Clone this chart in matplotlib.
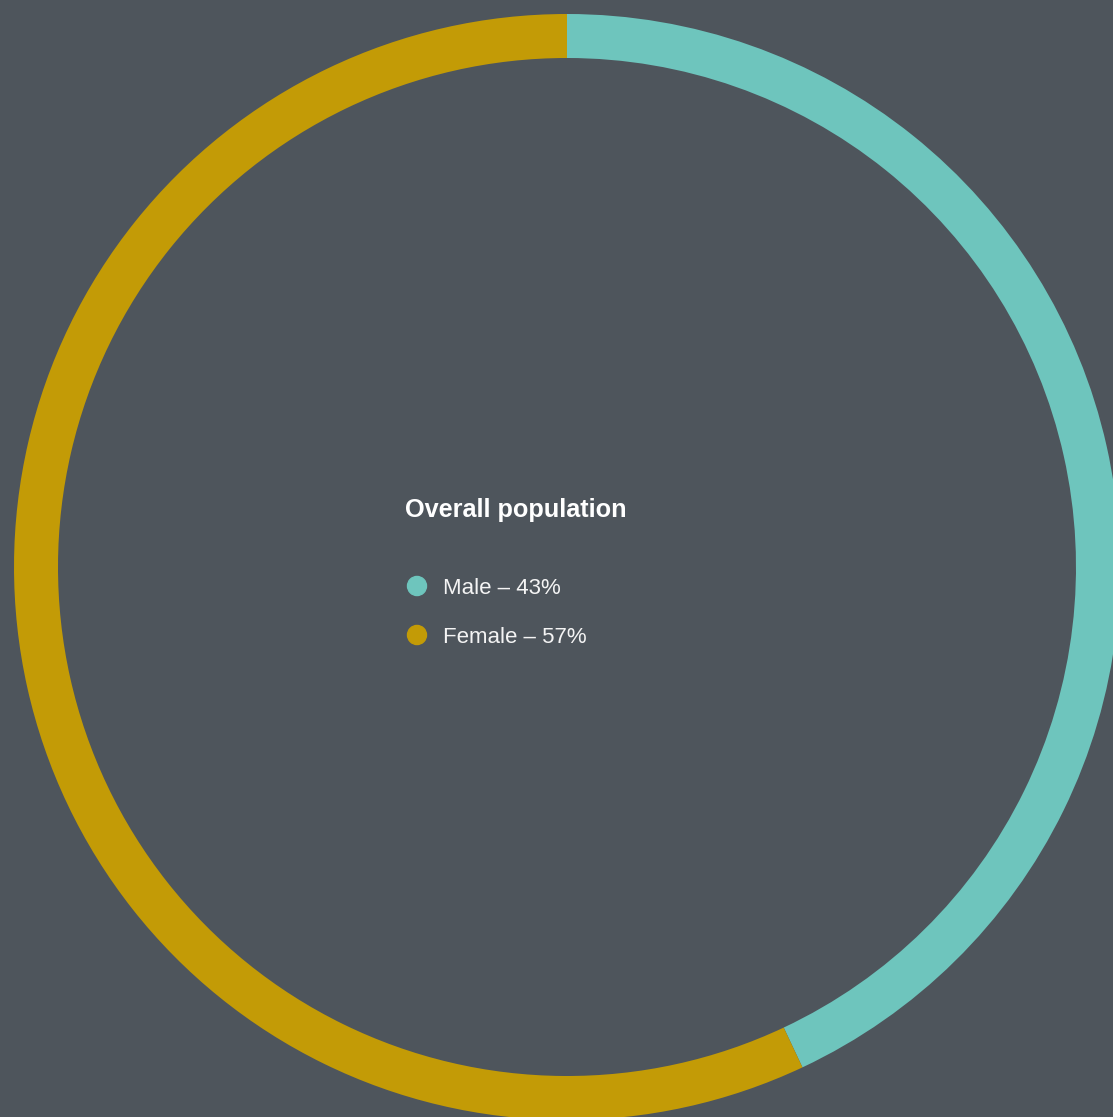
import matplotlib
matplotlib.use("Agg")
import matplotlib.pyplot as plt

categories = ["Male", "Female"]
values = [43, 57]
colors = ["#6ec5bd", "#c39b06"]
title = "Overall population"
labels = [f"{c} \u2013 {v}%" for c, v in zip(categories, values)]

BG = "#4e555c"
W, H = 1113, 1117
fig = plt.figure(figsize=(W / 100, H / 100), dpi=100, facecolor=BG)

cx, cy, r = 567, 567, 553
ax = fig.add_axes([(cx - r) / W, (H - cy - r) / H, 2 * r / W, 2 * r / H])
ax.set_facecolor(BG)
ax.pie(values, colors=colors, startangle=90, counterclock=False, radius=1,
       wedgeprops=dict(width=44 / r, linewidth=0))
ax.set_xlim(-1, 1)
ax.set_ylim(-1, 1)
ax.set_aspect("equal")
ax.axis("off")

def fx(px):
    return px / W

def fy(py):
    return 1 - py / H

fig.text(fx(405), fy(510), title, fontsize=18.2, fontweight="bold", color="white",
         family="Liberation Sans", va="center", ha="left")
for i, (lab, col) in enumerate(zip(labels, colors)):
    y = 587 + i * 49
    fig.patches.append(plt.Circle((fx(417), fy(y - 1)), 9.5 / W, transform=fig.transFigure,
                                  color=col, figure=fig))
    fig.text(fx(443), fy(y + 1.5), lab, fontsize=16, color="#f4f4f4", family="Liberation Sans",
             va="center", ha="left")

fig.savefig("out.png", dpi=100, facecolor=BG)
